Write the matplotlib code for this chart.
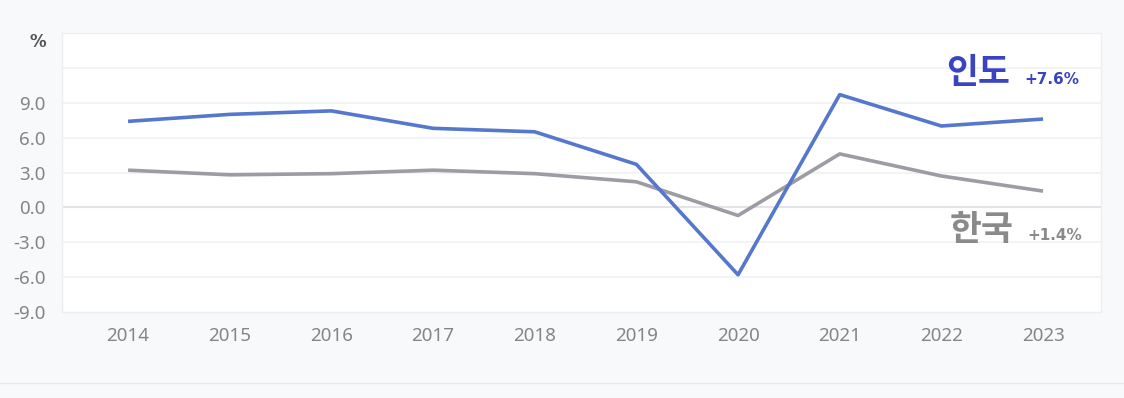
import matplotlib
matplotlib.use("Agg")
import matplotlib.pyplot as plt

years = [2014, 2015, 2016, 2017, 2018, 2019, 2020, 2021, 2022, 2023]
india = [7.4, 8.0, 8.3, 6.8, 6.5, 3.7, -5.8, 9.7, 7.0, 7.6]
korea = [3.2, 2.8, 2.9, 3.2, 2.9, 2.2, -0.7, 4.6, 2.7, 1.4]
yticks = [-9, -6, -3, 0, 3, 6, 9]
ytick_labels = ["-9.0", "-6.0", "-3.0", "0.0", "3.0", "6.0", "9.0"]
india_label = "인도"
india_last = "+7.6%"
korea_label = "한국"
korea_last = "+1.4%"

plt.rcParams['font.family'] = ['Noto Sans CJK KR', 'DejaVu Sans']

W, H = 1124, 398
fig = plt.figure(figsize=(W/100, H/100), dpi=100)
fig.patch.set_facecolor('#f8f9fb')

left, right, top, bottom = 62, 1101, 33, 312
ax = fig.add_axes([left/W, 1-bottom/H, (right-left)/W, (bottom-top)/H])
ax.set_facecolor('white')
ax.set_xlim(2013.35, 2023.57)
ax.set_ylim(-9, 15)

for v in [-6, -3, 3, 6, 9, 12]:
    ax.axhline(v, color='#f0f1f3', lw=1.2, zorder=0)
ax.axhline(0, color='#e2e4e8', lw=1.5, zorder=0)

ax.plot(years, korea, color='#9c9ca4', lw=2.6, zorder=2, solid_capstyle='butt')
ax.plot(years, india, color='#5577cc', lw=2.6, zorder=3, solid_capstyle='butt')

ax.set_yticks(yticks)
ax.set_yticklabels(ytick_labels)
ax.set_xticks(years)
ax.set_xticklabels([str(y) for y in years])
ax.tick_params(axis='both', length=0, labelsize=13.5, labelcolor='#858585')
ax.tick_params(axis='y', pad=12)
ax.tick_params(axis='x', pad=11)
for lab in ax.get_xticklabels() + ax.get_yticklabels():
    lab.set_fontfamily(['Noto Sans', 'DejaVu Sans'])
for s in ax.spines.values():
    s.set_color('#eceef1')
    s.set_linewidth(1)

fig.text(38/W, 1-42/H, "%", ha='center', va='center', fontsize=12,
         color='#555555', fontweight='bold', family=['DejaVu Sans'])

fig.text(978/W, 1-72/H, india_label, ha='center', va='center', fontsize=25,
         color='#3a44c2', fontweight='bold')
fig.text(1052/W, 1-80/H, india_last, ha='center', va='center', fontsize=11,
         color='#3a44c2', fontweight='bold', family=['DejaVu Sans'])
fig.text(982/W, 1-230/H, korea_label, ha='center', va='center', fontsize=25,
         color='#8a8a8a', fontweight='bold')
fig.text(1055/W, 1-236/H, korea_last, ha='center', va='center', fontsize=11,
         color='#8a8a8a', fontweight='bold', family=['DejaVu Sans'])

line = plt.Line2D([0, 1], [1-383/H, 1-383/H], transform=fig.transFigure,
                  color='#e8eaee', lw=1)
fig.add_artist(line)

fig.savefig("out.png", dpi=100, facecolor=fig.get_facecolor())
